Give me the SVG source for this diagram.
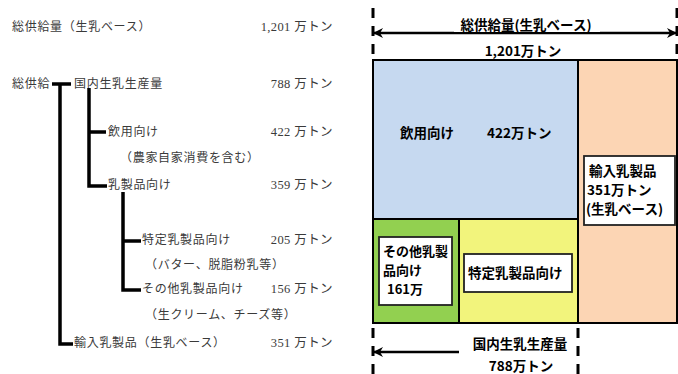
<svg xmlns="http://www.w3.org/2000/svg" width="678" height="374" viewBox="0 0 678 374">
<defs>
<style>
.t{font-family:"Noto Sans CJK JP","Noto Sans",sans-serif;font-size:12px;letter-spacing:0.7px;fill:#3a3a3a}
.n{font-family:"Liberation Serif","Noto Sans CJK JP",serif;font-size:12.5px;letter-spacing:0.4px;fill:#3a3a3a;text-anchor:end}
.b{font-family:"Noto Sans CJK JP","Noto Sans",sans-serif;font-size:13.5px;font-weight:700;fill:#000}
.s{font-size:13px}
.tree{fill:none;stroke:#000;stroke-width:3.5}
.dash{stroke:#000;stroke-width:3;stroke-dasharray:10 8}
.arr{stroke:#000;stroke-width:2.5}
.cell{stroke:#000;stroke-width:2}
.lbl{fill:#fff;stroke:#222;stroke-width:1.8}
</style>
<marker id="ah" viewBox="0 0 12 12" refX="10" refY="6" markerWidth="12" markerHeight="12" markerUnits="userSpaceOnUse" orient="auto-start-reverse">
<path d="M1,1 L11,6 L1,11 L4,6 Z" fill="#000"/>
</marker>
</defs>

<g id="left-text">
<text class="t" x="12" y="31">総供給量（生乳ベース）</text>
<text class="n" x="333" y="31">1,201 万トン</text>
<text class="t" x="12" y="88">総供給</text>
<text class="n" x="333" y="88">788 万トン</text>
</g>

<g id="node-kokunai"><text class="t" x="74" y="88">国内生乳生産量</text></g>
<g id="node-inyou">
<text class="t" x="108" y="136">飲用向け</text>
<text class="n" x="333" y="136">422 万トン</text>
<text class="t" x="120" y="162">（農家自家消費を含む）</text>
</g>
<g id="node-nyuseihin">
<text class="t" x="108" y="189">乳製品向け</text>
<text class="n" x="333" y="189">359 万トン</text>
</g>
<g id="node-tokutei">
<text class="t" x="142" y="244">特定乳製品向け</text>
<text class="n" x="333" y="244">205 万トン</text>
<text class="t" x="145" y="269">（バター、脱脂粉乳等）</text>
</g>
<g id="node-sonota">
<text class="t" x="142" y="293">その他乳製品向け</text>
<text class="n" x="333" y="293">156 万トン</text>
<text class="t" x="145" y="319">（生クリーム、チーズ等）</text>
</g>
<g id="node-yunyu">
<text class="t" x="74" y="347">輸入乳製品（生乳ベース）</text>
<text class="n" x="333" y="347">351 万トン</text>
</g>

<g id="connectors">
<path class="tree" d="M52,84 H71 M60,84 V344 H73"/>
<path class="tree" d="M89,88 V186 H107 M89,132 H106"/>
<path class="tree" d="M123,192 V290 H141 M123,241 H141"/>
</g>

<g id="chart">
<rect class="cell" x="373" y="60" width="205" height="159" fill="#C6D9F0"/>
<rect class="cell" x="578" y="60" width="99" height="263" fill="#FCD5B4"/>
<rect class="cell" x="373" y="219" width="86" height="104" fill="#92D050"/>
<rect class="cell" x="459" y="219" width="119" height="104" fill="#F2F47C"/>
</g>

<g id="node-inyou-chart">
<text class="b" x="400" y="138">飲用向け</text>
<text class="b" x="487" y="138">422万トン</text>
</g>
<g id="node-yunyu-chart">
<rect class="lbl" x="584" y="156" width="91" height="69"/>
<text class="b" x="589" y="176">輸入乳製品</text>
<text class="b" x="587" y="195">351万トン</text>
<text class="b" x="586" y="214">(生乳ベース)</text>
</g>
<g id="node-sonota-chart">
<rect class="lbl" x="379" y="237" width="73" height="68"/>
<text class="b s" x="383" y="256">その他乳製</text>
<text class="b s" x="383" y="275">品向け</text>
<text class="b s" x="387" y="294">161万</text>
</g>
<g id="node-tokutei-chart">
<rect class="lbl" x="464" y="254" width="108" height="38"/>
<text class="b" x="468" y="278">特定乳製品向け</text>
</g>

<g id="dimensions">
<line class="dash" x1="373" y1="8" x2="373" y2="58"/>
<line class="dash" x1="677" y1="8" x2="677" y2="58"/>
<line class="arr" x1="374" y1="33" x2="676" y2="33" marker-start="url(#ah)" marker-end="url(#ah)"/>
<rect x="454" y="17" width="146" height="15" fill="#fff"/>
<text class="b" x="526" y="30" text-anchor="middle">総供給量(生乳ベース)</text>
<text class="b" x="523" y="56" text-anchor="middle">1,201万トン</text>
<line class="dash" x1="373" y1="328" x2="373" y2="374"/>
<line class="dash" x1="578" y1="328" x2="578" y2="374"/>
<line class="arr" x1="374" y1="352" x2="459" y2="352" marker-start="url(#ah)"/>
<text class="b" x="520" y="349" text-anchor="middle">国内生乳生産量</text>
<text class="b" x="521" y="371" text-anchor="middle">788万トン</text>
</g>
</svg>
